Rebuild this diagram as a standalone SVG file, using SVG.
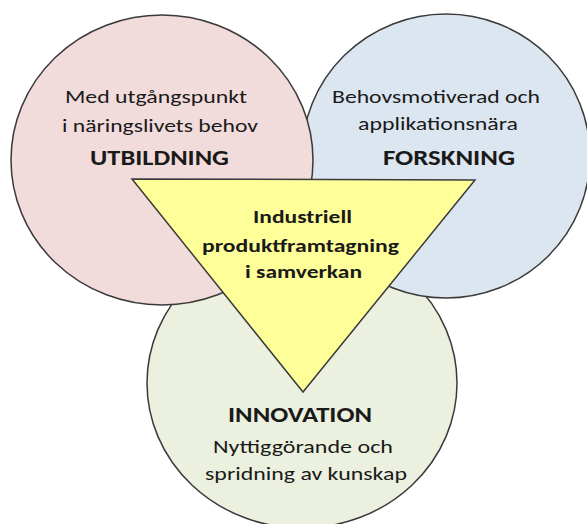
<svg xmlns="http://www.w3.org/2000/svg" width="587" height="524" viewBox="0 0 587 524">
<style>
.c{stroke:#3a3a3a;stroke-width:1.5}
.t{font-family:Carlito,"Liberation Sans",Arial,sans-serif;font-size:19px;fill:#1a1a1a;text-anchor:middle}
.b{font-weight:bold;font-size:22px}
.m{font-weight:bold;font-size:19px}
</style>
<rect width="587" height="524" fill="#ffffff"/>
<g id="innovation">
<ellipse class="c" cx="302" cy="383" rx="155" ry="145" fill="#EBF1DE"/>
</g>
<g id="forskning">
<ellipse class="c" cx="446" cy="156" rx="144" ry="142" fill="#DCE6F1"/>
</g>
<g id="utbildning">
<ellipse class="c" cx="162" cy="160" rx="151" ry="145" fill="#F2DCDB"/>
</g>
<g id="center">
<polygon class="c" points="132,179 475,180 303,392" fill="#FFFF99"/>
</g>
<g id="labels">
<text class="t" x="156" y="103" textLength="182" lengthAdjust="spacingAndGlyphs">Med utgångspunkt</text>
<text class="t" x="160" y="132" textLength="196" lengthAdjust="spacingAndGlyphs">i näringslivets behov</text>
<text class="t b" x="159.5" y="165" textLength="139" lengthAdjust="spacingAndGlyphs">UTBILDNING</text>
<text class="t" x="436" y="103" textLength="208" lengthAdjust="spacingAndGlyphs">Behovsmotiverad och</text>
<text class="t" x="438" y="130" textLength="160" lengthAdjust="spacingAndGlyphs">applikationsnära</text>
<text class="t b" x="449" y="165" textLength="132" lengthAdjust="spacingAndGlyphs">FORSKNING</text>
<text class="t m" x="302.5" y="223" textLength="99" lengthAdjust="spacingAndGlyphs">Industriell</text>
<text class="t m" x="300.5" y="252" textLength="197" lengthAdjust="spacingAndGlyphs">produktframtagning</text>
<text class="t m" x="303.5" y="278" textLength="117" lengthAdjust="spacingAndGlyphs">i samverkan</text>
<text class="t b" x="300" y="422" textLength="144" lengthAdjust="spacingAndGlyphs">INNOVATION</text>
<text class="t" x="303" y="453" textLength="180" lengthAdjust="spacingAndGlyphs">Nyttiggörande och</text>
<text class="t" x="306" y="480" textLength="202" lengthAdjust="spacingAndGlyphs">spridning av kunskap</text>
</g>
<g id="connectors"></g>
</svg>
